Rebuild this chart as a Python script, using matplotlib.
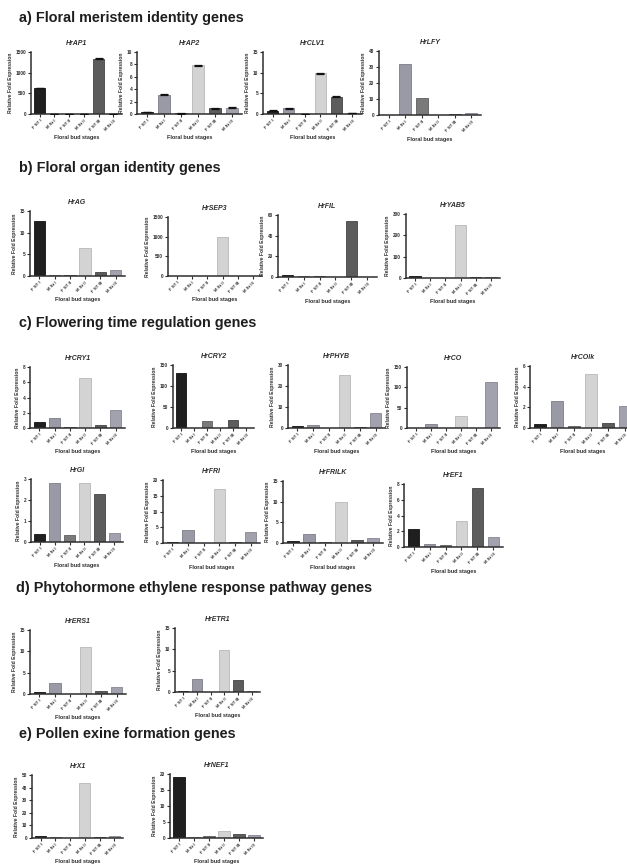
import matplotlib
matplotlib.use("Agg")
import matplotlib.pyplot as plt

plt.rcParams['font.family'] = ['Liberation Sans', 'DejaVu Sans']

W, H = 627, 865

stages = ["F ST I", "M St I", "F ST II", "M St II", "F ST III", "M St III"]
stage_colors = ["#1f1f1f", "#9a9aa6", "#7a7a7a", "#d3d3d3", "#5c5c5c", "#a2a2ae"]
edge_colors = ["#111111", "#7c7c88", "#5e5e5e", "#b8b8b8", "#444444", "#868692"]

# a) Floral meristem identity genes
hrAP1 = [640, 0, 0, 0, 1340, 0]
hrAP1_err = [0, 0, 0, 0, 15, 0]
hrAP2 = [0.35, 3.1, 0.1, 7.85, 0.9, 1.0]
hrAP2_err = [0.05, 0.08, 0.02, 0.1, 0.06, 0.06]
hrCLV1 = [0.8, 1.4, 0.1, 9.8, 4.2, 0.3]
hrCLV1_err = [0.05, 0.1, 0.02, 0.15, 0.12, 0.05]
hrLFY = [0, 32, 10.5, 0, 0.5, 1.5]

# b) Floral organ identity genes
hrAG = [12.7, 0.2, 0.3, 6.4, 0.9, 1.3]
hrSEP3 = [1, 5, 1, 1000, 1, 1]
hrFIL = [1.5, 0.5, 1.2, 0.3, 54, 0.2]
hrYAB5 = [8, 1, 1, 250, 3, 3]

# c) Flowering time regulation genes
hrCRY1 = [0.8, 1.3, 0.15, 6.6, 0.45, 2.35]
hrCRY2 = [130, 0, 17, 0, 19, 0]
hrPHYB = [0.8, 1.3, 0.2, 25, 0.3, 7.2]
hrCO = [0, 10, 0, 30, 0, 113]
hrCOlk = [0.4, 2.65, 0.2, 5.25, 0.5, 2.15]
hrGI = [0.37, 2.8, 0.35, 2.8, 2.3, 0.42]
hrFRI = [0.3, 4.2, 0.1, 17.3, 0.3, 3.6]
hrFRILK = [0.5, 2.1, 0.2, 9.85, 0.7, 1.3]
hrEF1 = [2.25, 0.4, 0.3, 3.25, 7.5, 1.3]

# d) Phytohormone ethylene response pathway genes
hrERS1 = [0.4, 2.5, 0.1, 10.9, 0.6, 1.7]
hrETR1 = [0.3, 3.0, 0.1, 9.8, 2.9, 0.3]

# e) Pollen exine formation genes
hrX1 = [1.5, 0.7, 0.1, 43.5, 0.6, 1.2]
hrNEF1 = [19, 0.2, 0.5, 2.3, 1.2, 1.0]

section_titles = [
    ("a) Floral meristem identity genes", 19, 22),
    ("b) Floral organ identity genes", 19, 172),
    ("c) Flowering time regulation genes", 19, 327),
    ("d) Phytohormone ethylene response pathway genes", 16, 592),
    ("e) Pollen exine formation genes", 19, 738),
]

# (name, values, errors, ymax, ystep, [x0, x1, ytop, ybottom] in px)
panels = [
    ("HrAP1", hrAP1, hrAP1_err, 1500, 500, [31, 122, 52, 114]),
    ("HrAP2", hrAP2, hrAP2_err, 10, 2, [137, 242, 52, 114]),
    ("HrCLV1", hrCLV1, hrCLV1_err, 15, 5, [263, 362, 52, 114]),
    ("HrLFY", hrLFY, None, 40, 10, [379, 481, 51, 115]),
    ("HrAG", hrAG, None, 15, 5, [30, 125, 211, 276]),
    ("HrSEP3", hrSEP3, None, 1500, 500, [168, 262, 217, 276]),
    ("HrFIL", hrFIL, None, 60, 20, [278, 377, 215, 277]),
    ("HrYAB5", hrYAB5, None, 300, 100, [406, 500, 214, 278]),
    ("HrCRY1", hrCRY1, None, 8, 2, [30, 125, 367, 428]),
    ("HrCRY2", hrCRY2, None, 150, 50, [173, 254, 365, 428]),
    ("HrPHYB", hrPHYB, None, 30, 10, [288, 385, 365, 428]),
    ("HrCO", hrCO, None, 150, 50, [407, 500, 367, 428]),
    ("HrCOlk", hrCOlk, None, 6, 2, [530, 635, 366, 428]),
    ("HrGI", hrGI, None, 3, 1, [31, 123, 479, 542]),
    ("HrFRI", hrFRI, None, 20, 5, [163, 260, 480, 543]),
    ("HrFRILK", hrFRILK, None, 15, 5, [283, 383, 481, 543]),
    ("HrEF1", hrEF1, None, 8, 2, [404, 503, 484, 547]),
    ("HrERS1", hrERS1, None, 15, 5, [30, 126, 630, 694]),
    ("HrETR1", hrETR1, None, 15, 5, [175, 260, 628, 692]),
    ("HrX1", hrX1, None, 50, 10, [32, 123, 775, 838]),
    ("HrNEF1", hrNEF1, None, 20, 5, [170, 263, 774, 838]),
]

fig = plt.figure(figsize=(W / 100, H / 100), dpi=100)

for text, x, y in section_titles:
    fig.text(x / W, 1 - y / H, text, fontsize=10.4, fontweight='bold',
             color='#1e1e1e', va='baseline', ha='left')

axis_color = '#2e2e2e'
for name, vals, errs, ymax, ystep, (x0, x1, yt, yb) in panels:
    ax = fig.add_axes([x0 / W, 1 - yb / H, (x1 - x0) / W, (yb - yt) / H])
    xs = list(range(len(stages)))
    ax.bar(xs, vals, width=0.74, color=stage_colors, edgecolor=edge_colors,
           linewidth=0.6, zorder=2)
    if errs is not None:
        ax.errorbar(xs, vals, yerr=errs, fmt='none', ecolor='#111111',
                    elinewidth=0.8, capsize=2.8, capthick=0.9, zorder=3)
    ax.set_xlim(-0.6, 5.6)
    ax.set_ylim(0, ymax)
    ticks = list(range(0, int(ymax) + 1, int(ystep)))
    ax.set_yticks(ticks)
    ax.set_yticklabels([str(t) for t in ticks], fontsize=3.4, fontweight='bold',
                       color=axis_color)
    ax.set_xticks(xs)
    ax.set_xticklabels(stages, rotation=45, ha='right', rotation_mode='anchor',
                       fontsize=3.2, fontweight='bold', color=axis_color)
    for s in ['top', 'right']:
        ax.spines[s].set_visible(False)
    for s in ['left', 'bottom']:
        ax.spines[s].set_linewidth(1.1)
        ax.spines[s].set_color(axis_color)
    ax.tick_params(axis='both', length=2, width=0.8, color=axis_color, pad=1.5)
    ax.set_ylabel("Relative Fold Expression", fontsize=3.6, fontweight='bold',
                  color=axis_color, labelpad=2)
    ax.set_title(name, fontsize=5, fontweight='bold', style='italic',
                 color=axis_color, pad=5)
    cx = (x0 + x1) / 2
    fig.text(cx / W, 1 - (yb + 24) / H, "Floral bud stages", fontsize=4,
             fontweight='bold', color=axis_color, ha='center', va='center')

fig.savefig("out.png", dpi=100, facecolor='white')
